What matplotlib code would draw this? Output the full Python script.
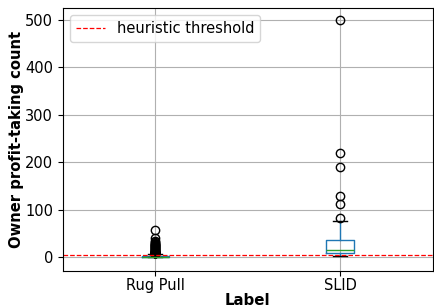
import matplotlib
matplotlib.use("Agg")
import matplotlib.pyplot as plt
import numpy as np
import pandas as pd

labels = ["Rug Pull", "SLID"]

# Rug Pull: owner profit-taking counts (value, how many contracts)
rug_values = [0, 1, 2, 3, 4, 5, 6, 7, 8, 9, 10, 11, 12, 13, 14, 15, 16, 17, 18,
              19, 20, 21, 22, 23, 24, 25, 26, 27, 28, 30, 32, 34, 41, 57]
rug_counts = [70, 60, 40, 20, 10, 6, 4, 3, 3, 2, 2, 2, 2, 1, 2, 1, 1, 1, 1,
              1, 1, 1, 1, 1, 1, 1, 1, 1, 1, 1, 1, 1, 1, 1]

slid_values = [3, 4, 5, 5, 6, 7, 7, 8, 8, 9, 10, 11, 12, 14, 15, 15, 17, 20,
               22, 25, 30, 35, 38, 76, 83, 113, 130, 190, 220, 500]

threshold = 5

rug = np.repeat(rug_values, rug_counts)
df = pd.DataFrame({
    "Rug Pull": pd.Series(rug),
    "SLID": pd.Series(slid_values),
})

fig = plt.figure(figsize=(4.34, 3.08), dpi=100)
ax = fig.add_axes([0.145, 0.12, 0.852, 0.854])

df.boxplot(column=labels, ax=ax, grid=True, fontsize=10.5)
ax.axhline(threshold, color="red", linestyle="--", linewidth=0.9, label="heuristic threshold")

ax.tick_params(axis="x", pad=1.5)
ax.set_xlabel("Label", fontsize=10.8, fontweight="bold", labelpad=0)
ax.set_ylabel("Owner profit-taking count", fontsize=10.6, fontweight="bold", labelpad=1)
ax.set_ylim(-29, 525)
ax.set_yticks([0, 100, 200, 300, 400, 500])
ax.legend(loc="upper left", fontsize=10.5)

fig.savefig("out.png", dpi=100)
plt.close(fig)
